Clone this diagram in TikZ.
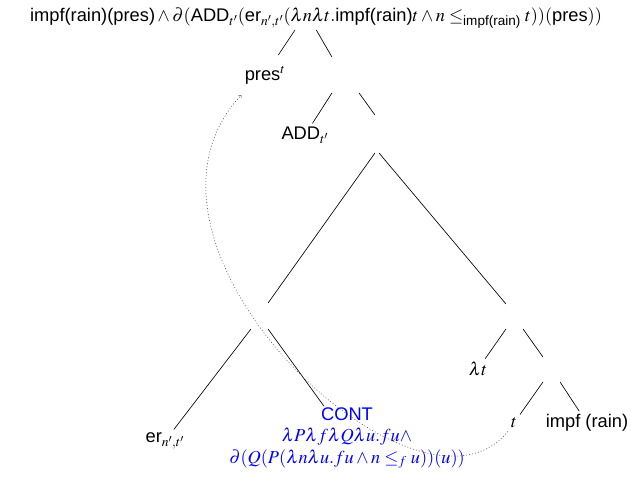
\documentclass[tikz,border=0pt]{standalone}
\usepackage{amsmath}
\usepackage{mathptmx}
\usepackage{fontspec}
\setmainfont{Liberation Sans}
\begin{document}
\begin{tikzpicture}[x=1pt, y=-1pt, line cap=round, line join=round,
    font=\fontsize{18.3}{21.5}\selectfont,
    branch/.style 2 args={inner sep=0, minimum width=#1, minimum height=#2},
    edge/.style={line width=0.65pt},
    move/.style={line width=0.6pt, dash pattern=on 0.6pt off 2.4pt, ->, black!70}]
\useasboundingbox (0,0) rectangle (631,483);
% labels and empty branch points
\node[inner sep=2pt] (root) at (316,18) {impf(rain)(pres)${}\wedge\partial($ADD$_{t'}($er$_{n',t'}(\lambda n\lambda t.$impf(rain)$t\wedge n\le_{\text{impf(rain)}} t))($pres$))$};
\node[inner ysep=11pt] (pres) at (265,75) {pres$^t$};
\node[branch={27}{36}] (n1) at (345.5,75) {};
\node (add) at (305,135) {ADD$_{t'}$};
\node[branch={4}{38}] (n2) at (377,134) {};
\node[branch={17}{26}] (n3) at (259.5,316) {};
\node[branch={17}{25}] (n4) at (514.5,316.5) {};
\node (er) at (165,441) {er$_{n',t'}$};
\node[blue, align=center, inner sep=1pt] (cont) at (347,438) {CONT\\
    $\lambda P\lambda f\lambda Q\lambda u.fu\wedge$\\
    $\partial(Q(P(\lambda n\lambda u.fu\wedge n\le_f u))(u))$};
\node (lt) at (478,369) {$\lambda t$};
\node[branch={17}{25}] (n5) at (551.5,369.5) {};
\node (t) at (514,423) {$t$};
\node (impf) at (587,423) {impf (rain)};

\foreach \a/\b in {root.-150/pres, root.-88/n1.north west, n1.south west/add,
    n1.south east/n2.north west, n2.south west/n3.north east, n2.south east/n4.north west,
    n3.south west/er, n3.south east/cont, n4.south west/lt, n4.south east/n5.north west,
    n5.south west/t, n5.south east/impf}
  \draw[edge] (\a) -- (\b);

% movement of t
\draw[move] (t.south west) .. controls +(-90,112) and +(-140,150) .. (pres.south west);
\end{tikzpicture}
\end{document}
